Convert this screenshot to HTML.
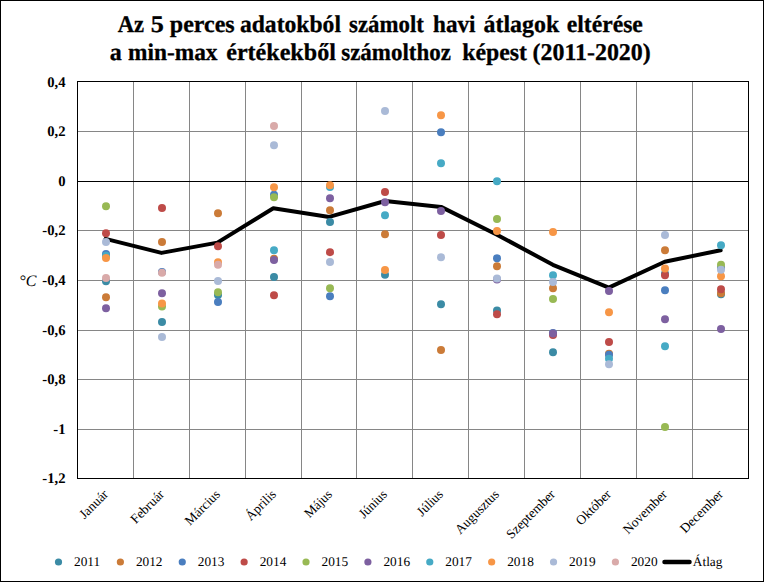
<!DOCTYPE html>
<html><head><meta charset="utf-8"><title>chart</title>
<style>
html,body{margin:0;padding:0;background:#fff;}
body{width:764px;height:582px;overflow:hidden;}
svg{display:block;font-family:"Liberation Serif",serif;text-rendering:geometricPrecision;}
.t{font-weight:bold;font-size:24px;stroke:#000;stroke-width:0.3px;}
.yl{font-weight:bold;font-size:14.67px;text-anchor:end;}
.xl{font-size:13.33px;text-anchor:end;}
.lg{font-size:13.33px;}
</style></head><body>
<svg width="764" height="582" viewBox="0 0 764 582">
<rect x="0" y="0" width="764" height="582" fill="#fff"/>
<rect x="0.5" y="0.5" width="763" height="581" fill="none" stroke="#000" stroke-width="1" shape-rendering="crispEdges"/>
<text class="t" x="117.70" y="32" textLength="26.38" lengthAdjust="spacingAndGlyphs">Az</text>
<text class="t" x="150.71" y="32" textLength="13.08" lengthAdjust="spacingAndGlyphs">5</text>
<text class="t" x="169.80" y="32" textLength="64.88" lengthAdjust="spacingAndGlyphs">perces</text>
<text class="t" x="239.92" y="32" textLength="101.07" lengthAdjust="spacingAndGlyphs">adatokból</text>
<text class="t" x="349.05" y="32" textLength="74.83" lengthAdjust="spacingAndGlyphs">számolt</text>
<text class="t" x="433.03" y="32" textLength="42.48" lengthAdjust="spacingAndGlyphs">havi</text>
<text class="t" x="483.50" y="32" textLength="75.72" lengthAdjust="spacingAndGlyphs">átlagok</text>
<text class="t" x="566.71" y="32" textLength="76.15" lengthAdjust="spacingAndGlyphs">eltérése</text>
<text class="t" x="109.70" y="59.5" textLength="12.00" lengthAdjust="spacingAndGlyphs">a</text>
<text class="t" x="128.03" y="59.5" textLength="89.47" lengthAdjust="spacingAndGlyphs">min-max</text>
<text class="t" x="226.20" y="59.5" textLength="109.71" lengthAdjust="spacingAndGlyphs">értékekből</text>
<text class="t" x="341.24" y="59.5" textLength="109.59" lengthAdjust="spacingAndGlyphs">számolthoz</text>
<text class="t" x="462.21" y="59.5" textLength="64.83" lengthAdjust="spacingAndGlyphs">képest</text>
<text class="t" x="532.50" y="59.5" textLength="118.25" lengthAdjust="spacingAndGlyphs">(2011-2020)</text>
<g stroke="#868686" stroke-width="1" shape-rendering="crispEdges">
<line x1="77" y1="131.5" x2="749" y2="131.5"/>
<line x1="77" y1="230.5" x2="749" y2="230.5"/>
<line x1="77" y1="280.5" x2="749" y2="280.5"/>
<line x1="77" y1="330.5" x2="749" y2="330.5"/>
<line x1="77" y1="379.5" x2="749" y2="379.5"/>
<line x1="77" y1="429.5" x2="749" y2="429.5"/>
<line x1="133.5" y1="81" x2="133.5" y2="479"/>
<line x1="189.5" y1="81" x2="189.5" y2="479"/>
<line x1="245.5" y1="81" x2="245.5" y2="479"/>
<line x1="301.5" y1="81" x2="301.5" y2="479"/>
<line x1="356.5" y1="81" x2="356.5" y2="479"/>
<line x1="412.5" y1="81" x2="412.5" y2="479"/>
<line x1="468.5" y1="81" x2="468.5" y2="479"/>
<line x1="524.5" y1="81" x2="524.5" y2="479"/>
<line x1="580.5" y1="81" x2="580.5" y2="479"/>
<line x1="636.5" y1="81" x2="636.5" y2="479"/>
<line x1="692.5" y1="81" x2="692.5" y2="479"/>
</g>
<g stroke="#000" stroke-width="1" shape-rendering="crispEdges">
<line x1="77" y1="181.5" x2="749" y2="181.5"/>
<rect x="77.5" y="81.5" width="671" height="397" fill="none"/>
</g>
<text class="yl" x="65.5" y="86.7">0,4</text>
<text class="yl" x="65.5" y="136.4">0,2</text>
<text class="yl" x="65.5" y="186">0</text>
<text class="yl" x="65.5" y="235">-0,2</text>
<text class="yl" x="65.5" y="285">-0,4</text>
<text class="yl" x="65.5" y="335">-0,6</text>
<text class="yl" x="65.5" y="384">-0,8</text>
<text class="yl" x="65.5" y="434">-1</text>
<text class="yl" x="65.5" y="483">-1,2</text>
<text x="19.3" y="285.5" font-style="italic" font-size="16px">°C</text>
<polyline points="105.56,238.9 161.48,252.9 217.39,242.6 273.31,208.2 329.23,216.9 385.14,201.0 441.06,206.9 496.98,234.7 552.89,264.8 608.81,287.6 664.73,261.8 720.65,250.2" fill="none" stroke="#000" stroke-width="4" stroke-linejoin="round" stroke-linecap="round"/>
<g fill="#3B8BA5">
<circle cx="106" cy="281.25" r="4"/>
<circle cx="162" cy="322.05" r="4"/>
<circle cx="218" cy="295.05" r="4"/>
<circle cx="274" cy="276.95" r="4"/>
<circle cx="330" cy="222.05" r="4"/>
<circle cx="385" cy="274.85" r="4"/>
<circle cx="441" cy="304.25" r="4"/>
<circle cx="497" cy="310.45" r="4"/>
<circle cx="553" cy="352.15" r="4"/>
<circle cx="665" cy="273.65" r="4"/>
<circle cx="721" cy="294.15" r="4"/>
</g>
<g fill="#CB7B38">
<circle cx="106" cy="297.25" r="4"/>
<circle cx="162" cy="242.05" r="4"/>
<circle cx="218" cy="213.25" r="4"/>
<circle cx="274" cy="258.75" r="4"/>
<circle cx="330" cy="210.25" r="4"/>
<circle cx="385" cy="234.15" r="4"/>
<circle cx="441" cy="350.05" r="4"/>
<circle cx="497" cy="266.35" r="4"/>
<circle cx="553" cy="288.25" r="4"/>
<circle cx="609" cy="353.85" r="4"/>
<circle cx="665" cy="250.25" r="4"/>
<circle cx="721" cy="293.15" r="4"/>
</g>
<g fill="#4A7EBF">
<circle cx="106" cy="254.05" r="4"/>
<circle cx="162" cy="271.95" r="4"/>
<circle cx="218" cy="301.95" r="4"/>
<circle cx="274" cy="194.75" r="4"/>
<circle cx="330" cy="296.25" r="4"/>
<circle cx="441" cy="132.15" r="4"/>
<circle cx="497" cy="258.35" r="4"/>
<circle cx="553" cy="332.95" r="4"/>
<circle cx="609" cy="354.85" r="4"/>
<circle cx="665" cy="290.15" r="4"/>
<circle cx="721" cy="267.75" r="4"/>
</g>
<g fill="#BE4B48">
<circle cx="106" cy="233.25" r="4"/>
<circle cx="162" cy="208.05" r="4"/>
<circle cx="218" cy="246.15" r="4"/>
<circle cx="274" cy="295.25" r="4"/>
<circle cx="330" cy="252.15" r="4"/>
<circle cx="385" cy="191.95" r="4"/>
<circle cx="441" cy="235.05" r="4"/>
<circle cx="497" cy="314.25" r="4"/>
<circle cx="553" cy="334.95" r="4"/>
<circle cx="609" cy="342.05" r="4"/>
<circle cx="665" cy="275.25" r="4"/>
<circle cx="721" cy="289.15" r="4"/>
</g>
<g fill="#98B954">
<circle cx="106" cy="206.15" r="4"/>
<circle cx="162" cy="306.45" r="4"/>
<circle cx="218" cy="292.25" r="4"/>
<circle cx="274" cy="197.15" r="4"/>
<circle cx="330" cy="288.25" r="4"/>
<circle cx="497" cy="219.05" r="4"/>
<circle cx="553" cy="299.05" r="4"/>
<circle cx="665" cy="426.95" r="4"/>
<circle cx="721" cy="264.75" r="4"/>
</g>
<g fill="#7D60A0">
<circle cx="106" cy="308.25" r="4"/>
<circle cx="162" cy="293.25" r="4"/>
<circle cx="274" cy="259.95" r="4"/>
<circle cx="330" cy="198.15" r="4"/>
<circle cx="385" cy="202.25" r="4"/>
<circle cx="441" cy="211.05" r="4"/>
<circle cx="497" cy="279.55" r="4"/>
<circle cx="553" cy="333.55" r="4"/>
<circle cx="609" cy="290.95" r="4"/>
<circle cx="665" cy="319.15" r="4"/>
<circle cx="721" cy="329.05" r="4"/>
</g>
<g fill="#46AAC5">
<circle cx="106" cy="255.75" r="4"/>
<circle cx="274" cy="250.15" r="4"/>
<circle cx="330" cy="187.05" r="4"/>
<circle cx="385" cy="215.15" r="4"/>
<circle cx="441" cy="163.15" r="4"/>
<circle cx="497" cy="181.35" r="4"/>
<circle cx="553" cy="275.15" r="4"/>
<circle cx="609" cy="358.65" r="4"/>
<circle cx="665" cy="346.35" r="4"/>
<circle cx="721" cy="245.25" r="4"/>
</g>
<g fill="#F79646">
<circle cx="106" cy="258.05" r="4"/>
<circle cx="162" cy="303.45" r="4"/>
<circle cx="218" cy="262.25" r="4"/>
<circle cx="274" cy="187.35" r="4"/>
<circle cx="330" cy="185.25" r="4"/>
<circle cx="385" cy="269.95" r="4"/>
<circle cx="441" cy="115.15" r="4"/>
<circle cx="497" cy="231.05" r="4"/>
<circle cx="553" cy="232.05" r="4"/>
<circle cx="609" cy="312.15" r="4"/>
<circle cx="665" cy="268.55" r="4"/>
<circle cx="721" cy="276.35" r="4"/>
</g>
<g fill="#AABAD7">
<circle cx="106" cy="242.05" r="4"/>
<circle cx="162" cy="337.05" r="4"/>
<circle cx="218" cy="281.05" r="4"/>
<circle cx="274" cy="145.35" r="4"/>
<circle cx="330" cy="261.95" r="4"/>
<circle cx="385" cy="111.05" r="4"/>
<circle cx="441" cy="257.35" r="4"/>
<circle cx="497" cy="278.45" r="4"/>
<circle cx="553" cy="282.05" r="4"/>
<circle cx="609" cy="364.25" r="4"/>
<circle cx="665" cy="235.05" r="4"/>
<circle cx="721" cy="269.85" r="4"/>
</g>
<g fill="#D9AAA9">
<circle cx="106" cy="278.05" r="4"/>
<circle cx="162" cy="272.75" r="4"/>
<circle cx="218" cy="264.85" r="4"/>
<circle cx="274" cy="126.05" r="4"/>
</g>
<text class="xl" transform="translate(109,495) rotate(-45)">Január</text>
<text class="xl" transform="translate(165,495) rotate(-45)">Február</text>
<text class="xl" transform="translate(221,495) rotate(-45)">Március</text>
<text class="xl" transform="translate(277,495) rotate(-45)">Április</text>
<text class="xl" transform="translate(333,495) rotate(-45)">Május</text>
<text class="xl" transform="translate(388,495) rotate(-45)">Június</text>
<text class="xl" transform="translate(444,495) rotate(-45)">Július</text>
<text class="xl" transform="translate(500,495) rotate(-45)">Augusztus</text>
<text class="xl" transform="translate(556,495) rotate(-45)">Szeptember</text>
<text class="xl" transform="translate(612,495) rotate(-45)">Október</text>
<text class="xl" transform="translate(668,495) rotate(-45)">November</text>
<text class="xl" transform="translate(724,495) rotate(-45)">December</text>
<circle cx="58.5" cy="562" r="3.6" fill="#3B8BA5"/>
<text class="lg" transform="translate(74.00,566)">2011</text>
<circle cx="120.38" cy="562" r="3.6" fill="#CB7B38"/>
<text class="lg" transform="translate(135.88,566)">2012</text>
<circle cx="182.26" cy="562" r="3.6" fill="#4A7EBF"/>
<text class="lg" transform="translate(197.76,566)">2013</text>
<circle cx="244.14000000000001" cy="562" r="3.6" fill="#BE4B48"/>
<text class="lg" transform="translate(259.64,566)">2014</text>
<circle cx="306.02" cy="562" r="3.6" fill="#98B954"/>
<text class="lg" transform="translate(321.52,566)">2015</text>
<circle cx="367.90000000000003" cy="562" r="3.6" fill="#7D60A0"/>
<text class="lg" transform="translate(383.40,566)">2016</text>
<circle cx="429.78000000000003" cy="562" r="3.6" fill="#46AAC5"/>
<text class="lg" transform="translate(445.28,566)">2017</text>
<circle cx="491.66" cy="562" r="3.6" fill="#F79646"/>
<text class="lg" transform="translate(507.16,566)">2018</text>
<circle cx="553.54" cy="562" r="3.6" fill="#AABAD7"/>
<text class="lg" transform="translate(569.04,566)">2019</text>
<circle cx="615.4200000000001" cy="562" r="3.6" fill="#D9AAA9"/>
<text class="lg" transform="translate(630.92,566)">2020</text>
<line x1="664.5" y1="562" x2="689.5" y2="562" stroke="#000" stroke-width="4.5" stroke-linecap="round"/>
<text class="lg" transform="translate(692.8,566)">Átlag</text>
</svg></body></html>
